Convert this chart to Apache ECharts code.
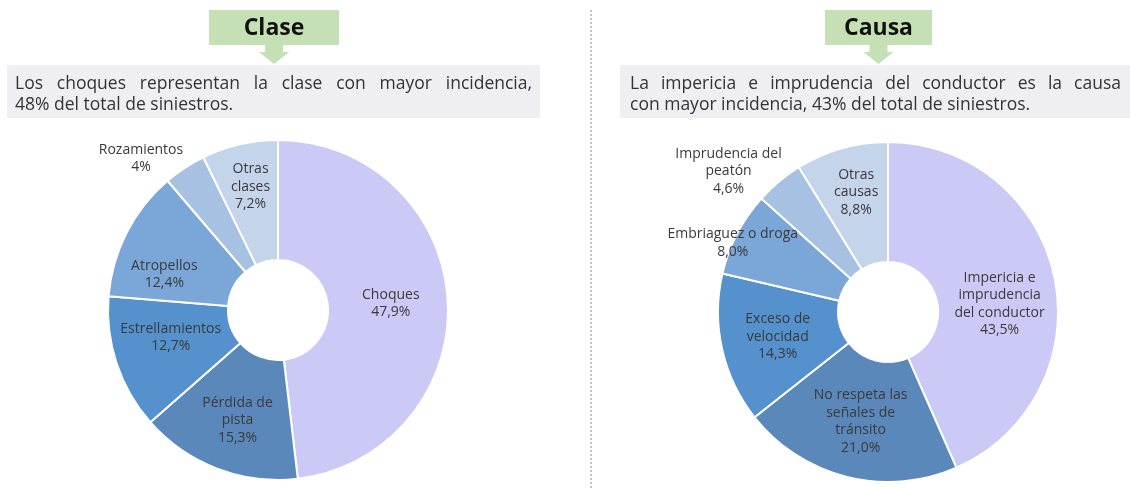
<!DOCTYPE html>
<html>
<head>
<meta charset="utf-8">
<script src="https://cdn.jsdelivr.net/npm/echarts@6/dist/echarts.min.js"></script>
<style>
  html, body { margin: 0; padding: 0; background: #fff; }
  #chart { width: 1130px; height: 488px; }
</style>
</head>
<body>
<div id="chart"></div>
<script>
// datos: clase de siniestro
const claseNames = ['Choques', 'Pérdida de\npista', 'Estrellamientos', 'Atropellos', 'Rozamientos', 'Otras\nclases'];
const claseValues = [47.9, 15.3, 12.7, 12.4, 4, 7.2];
const claseTexts = ['47,9%', '15,3%', '12,7%', '12,4%', '4%', '7,2%'];

// datos: causa de siniestro
const causaNames = ['Impericia e\nimprudencia\ndel conductor', 'No respeta las\nseñales de\ntránsito', 'Exceso de\nvelocidad', 'Embriaguez o droga', 'Imprudencia del\npeatón', 'Otras\ncausas'];
const causaValues = [43.5, 21.0, 14.3, 8.0, 4.6, 8.8];
const causaTexts = ['43,5%', '21,0%', '14,3%', '8,0%', '4,6%', '8,8%'];

const sliceColors = ['#cbcaf7', '#5b88bb', '#5591cd', '#7aa7d8', '#a7c1e3', '#c4d4eb'];

// desplazamiento de etiquetas respecto a la posición interior
const claseOffsets = [[0, 0], [0, 5], [0, -8], [-13, 16], [-75, -57], [-2, -13]];
const causaOffsets = [[1, 15], [0, 0], [0, 0], [-55, -17], [-87, -54], [-1, -11]];

const FONT = '"Open Sans", "DejaVu Sans", sans-serif';
const NOTE_FONT = '17.5px ' + FONT;

const buildData = (names, values, offsets) =>
  names.map((name, i) => ({
    name,
    value: values[i],
    itemStyle: { color: sliceColors[i] },
    label: { offset: offsets[i] }
  }));

const buildSeries = (names, values, texts, offsets, center) => ({
  type: 'pie',
  center,
  radius: [50, 170],
  startAngle: 90,
  clockwise: true,
  avoidLabelOverlap: false,
  silent: true,
  itemStyle: { borderColor: '#fff', borderWidth: 2 },
  label: {
    show: true,
    position: 'inside',
    color: '#3a3a3a',
    fontFamily: FONT,
    fontSize: 14,
    lineHeight: 17.5,
    align: 'center',
    formatter: (p) => p.name + '\n' + texts[p.dataIndex]
  },
  labelLine: { show: false },
  data: buildData(names, values, offsets)
});

// cabecera verde con flecha
const header = (text, left, width) => {
  const cx = left + width / 2;
  return [
    {
      type: 'rect',
      shape: { x: left, y: 10, width, height: 35 },
      style: { fill: '#c6e0b5' }
    },
    {
      type: 'polygon',
      shape: {
        points: [
          [cx - 9, 45], [cx + 9, 45], [cx + 9, 52], [cx + 15, 52],
          [cx, 64], [cx - 15, 52], [cx - 9, 52]
        ]
      },
      style: { fill: '#c6e0b5' }
    },
    {
      type: 'text',
      x: cx,
      y: 28,
      style: {
        text,
        fill: '#111',
        font: 'bold 23px ' + FONT,
        align: 'center',
        verticalAlign: 'middle'
      }
    }
  ];
};

// texto justificado: cada palabra como elemento de texto
const measureCtx = document.createElement('canvas').getContext('2d');
measureCtx.font = NOTE_FONT;

const textLine = (line, x, y, width, justify) => {
  if (!justify) {
    return [{ type: 'text', x, y, style: { text: line, fill: '#333', font: NOTE_FONT, verticalAlign: 'middle' } }];
  }
  const words = line.split(' ');
  const widths = words.map(w => measureCtx.measureText(w).width);
  const gap = (width - widths.reduce((a, b) => a + b, 0)) / (words.length - 1);
  let cur = x;
  return words.map((w, i) => {
    const el = { type: 'text', x: cur, y, style: { text: w, fill: '#333', font: NOTE_FONT, verticalAlign: 'middle' } };
    cur += widths[i] + gap;
    return el;
  });
};

const note = (lines, left, width, textLeft, textRight) => [
  {
    type: 'rect',
    shape: { x: left, y: 65, width, height: 53 },
    style: { fill: '#efeff3' }
  },
  ...textLine(lines[0], textLeft, 84, textRight - textLeft, true),
  ...textLine(lines[1], textLeft, 105, 0, false)
];

const chart = echarts.init(document.getElementById('chart'));

chart.setOption({
  animation: false,
  series: [
    buildSeries(claseNames, claseValues, claseTexts, claseOffsets, [278, 310]),
    buildSeries(causaNames, causaValues, causaTexts, causaOffsets, [888, 312])
  ],
  graphic: [
    ...header('Clase', 209, 130),
    ...header('Causa', 825, 107),
    ...note(['Los choques representan la clase con mayor incidencia,', '48% del total de siniestros.'], 7, 533, 15, 532),
    ...note(['La impericia e imprudencia del conductor es la causa', 'con mayor incidencia, 43% del total de siniestros.'], 620, 510, 630, 1121),
    {
      type: 'line',
      shape: { x1: 591, y1: 10, x2: 591, y2: 488 },
      style: { stroke: '#8a8a8a', lineWidth: 1, lineDash: [2, 2] }
    }
  ]
});
</script>
</body>
</html>
